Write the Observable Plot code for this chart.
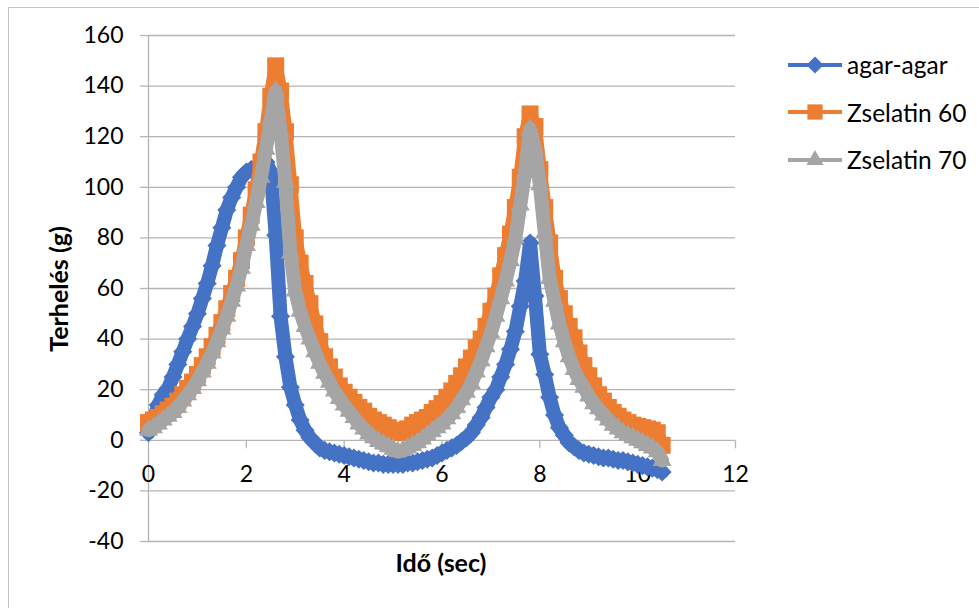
<!DOCTYPE html>
<html>
<head>
<meta charset="utf-8">
<script src="https://cdn.jsdelivr.net/npm/d3@7"></script>
<script src="https://cdn.jsdelivr.net/npm/@observablehq/plot@0.6"></script>
<style>
  html, body { margin: 0; padding: 0; background: #fff; }
  #wrap { position: relative; width: 979px; height: 608px; overflow: hidden; font-family: Lato, "Noto Sans", sans-serif; }
  #frame { position: absolute; left: 8px; top: 7px; width: 1200px; height: 900px; border-left: 1px solid #c4c4c4; border-top: 1px solid #c4c4c4; }
  #chart { position: absolute; left: 0; top: 0; }
  .ytitle { position: absolute; left: 58px; top: 289px; transform: translate(-50%, -50%) rotate(-90deg); font-weight: bold; font-size: 25px; white-space: nowrap; color: #000; }
  .xtitle { position: absolute; left: 441px; top: 562px; transform: translate(-50%, -50%); font-weight: bold; font-size: 25px; white-space: nowrap; color: #000; }
  #legend { position: absolute; left: 788px; top: 41px; }
  .li { display: flex; align-items: center; height: 47.5px; font-size: 24.5px; color: #000; white-space: nowrap; }
  .li svg { margin-right: 3px; }
</style>
</head>
<body>
<div id="wrap">
  <div id="frame"></div>
  <div id="chart"></div>
  <div class="ytitle">Terhelés (g)</div>
  <div class="xtitle">Idő (sec)</div>
  <div id="legend"></div>
</div>
<script>
// ---- data ----
const time = [0,0.1,0.2,0.3,0.4,0.5,0.6,0.7,0.8,0.9,
  1,1.1,1.2,1.3,1.4,1.5,1.6,1.7,1.8,1.9,
  2,2.1,2.2,2.3,2.4,2.5,2.6,2.7,2.8,2.9,
  3,3.1,3.2,3.3,3.4,3.5,3.6,3.7,3.8,3.9,
  4,4.1,4.2,4.3,4.4,4.5,4.6,4.7,4.8,4.9,
  5,5.1,5.2,5.3,5.4,5.5,5.6,5.7,5.8,5.9,
  6,6.1,6.2,6.3,6.4,6.5,6.6,6.7,6.8,6.9,
  7,7.1,7.2,7.3,7.4,7.5,7.6,7.7,7.8,7.9,
  8,8.1,8.2,8.3,8.4,8.5,8.6,8.7,8.8,8.9,
  9,9.1,9.2,9.3,9.4,9.5,9.6,9.7,9.8,9.9,
  10,10.1,10.2,10.3,10.4,10.5];

const agarAgar = [3,8,14,18,20.5,25,30,35,40,45,
  50,56,62,69,77,84,91,96,100,104,
  106,107,108,109,110,106,81,49,33,21,
  14,8,4,1,-1,-3,-4,-4.5,-5,-5.5,
  -6,-6.5,-7,-7.5,-8,-8.5,-9,-9,-9.5,-9.5,
  -9.5,-9.5,-9.5,-9,-9,-8.5,-8,-7.5,-7,-6,
  -5,-4,-3,-2,-0.5,1,3,6,9,13,
  17,20,25,30,36,43,53,63,78,57,
  34,26,17,10,5,2,-1,-2.5,-4,-5,
  -5.5,-6,-6.5,-7,-7,-7.5,-8,-8,-8.5,-9,
  -9.5,-10,-10.5,-11,-11.5,-12.5];

const zselatin60 = [7,8,9,10.5,12,13.5,15.5,18,20.5,23,
  26,29.5,33,37,41.5,46.5,52,58,64,71,
  80,89,99,110,122,136,148,138,122,101,
  80,70,62,54,46,39,33,29,25,21.5,
  19,17,15,13,11.5,9.5,8,7,6,5,
  4,3,3.5,4.5,6,7,8,9,11,12.5,
  14.5,17,19.5,22.5,25.5,29,32.5,36.5,40,45,
  51,57,65,73,81.5,92,104,120,129,124,
  107,92,78,64,56,50,45,40.5,34.5,29.5,
  25.5,21.5,18,15.5,13,11,9.5,8,7,6,
  5.5,5,4.5,4,3,-2];

const zselatin70 = [4,5,6.5,8,9.5,11,13,15.5,18,20.5,
  23.5,27,30.5,34.5,39,44,49,55,61,68,
  77,85,94,104,115,127,138,122,102,74,
  59,51,45,40,35,30.5,26.5,23,19.5,16.5,
  14,11.5,9,6.5,4.5,2.5,1,-0.5,-1.5,-2.5,
  -3.5,-4.5,-4,-3,-2,-1,0.5,2,3.5,5,
  6.5,8.5,10.5,13,16,19,22.5,27,31.5,37,
  42.5,49,56,63,71,80,93,106,123,115,
  101,82,64,55,46,39,33,28,24,21,
  17.5,14.5,12.5,10,8,6,4.5,3,2,1,
  0,-1,-2,-3,-4.5,-8];

const seriesNames = ["agar-agar", "Zselatin 60", "Zselatin 70"];
const seriesColors = ["#4472C4", "#ED7D31", "#A5A5A5"];
const seriesSymbols = ["diamond2", "square", "triangle"];
const yTicks = [-40,-20,0,20,40,60,80,100,120,140,160];
const xTicks = [0,2,4,6,8,10,12];

// ---- build tables ----
const seriesValues = [agarAgar, zselatin60, zselatin70];
const tables = seriesValues.map(vals => time.map((t, i) => ({t, v: vals[i]})));
const markerR = [8.6, 9.6, 7.1];
const grid = "#b4b4b4";

const tickDown = { draw(ctx) { ctx.moveTo(0, 0); ctx.lineTo(0, 8); } };

const seriesMarks = tables.flatMap((rows, k) => [
  Plot.line(rows, {x: "t", y: "v", stroke: seriesColors[k], strokeWidth: 14, strokeLinejoin: "round", strokeLinecap: "round"}),
  Plot.dot(rows, {x: "t", y: "v", symbol: seriesSymbols[k], r: markerR[k], fill: seriesColors[k], stroke: "none"})
]);

const chart = Plot.plot({
  width: 979,
  height: 608,
  marginLeft: 148,
  marginRight: 244,
  marginTop: 35,
  marginBottom: 67,
  x: {domain: [0, 12], axis: null},
  y: {domain: [-40, 160], axis: null},
  style: {fontFamily: "Lato, 'Noto Sans', sans-serif", color: "#000", background: "transparent", overflow: "visible"},
  marks: [
    Plot.ruleY(yTicks, {stroke: grid, strokeWidth: 1.3}),
    Plot.ruleX([0], {stroke: grid, strokeWidth: 1.3}),
    Plot.axisY({ticks: yTicks, tickSize: 8, tickPadding: 17, stroke: grid, strokeWidth: 1.3, fill: "#000", fontSize: 23, label: null, tickFormat: d => String(d)}),
    Plot.dot(xTicks.filter(d => d !== 0), {x: d => d, y: 0, symbol: tickDown, r: 1, stroke: grid, strokeWidth: 1.3, fill: "none"}),
    Plot.text(xTicks, {x: d => d, y: 0, dy: 34, text: d => String(d), fontSize: 23, fill: "#000"}),
    ...seriesMarks
  ]
});
document.getElementById("chart").appendChild(chart);

// ---- legend ----
const legend = document.getElementById("legend");
seriesNames.forEach((name, k) => {
  const row = document.createElement("div");
  row.className = "li";
  const ns = "http://www.w3.org/2000/svg";
  const svg = document.createElementNS(ns, "svg");
  svg.setAttribute("width", 56); svg.setAttribute("height", 22);
  const line = document.createElementNS(ns, "line");
  line.setAttribute("x1", 0); line.setAttribute("x2", 54);
  line.setAttribute("y1", 11); line.setAttribute("y2", 11);
  line.setAttribute("stroke", seriesColors[k]); line.setAttribute("stroke-width", 4);
  svg.appendChild(line);
  const sym = d3.symbol(seriesSymbols[k] === "diamond2" ? d3.symbolDiamond2 : seriesSymbols[k] === "square" ? d3.symbolSquare : d3.symbolTriangle, Math.PI * markerR[k] * markerR[k] * 0.8)();
  const path = document.createElementNS(ns, "path");
  path.setAttribute("d", sym);
  path.setAttribute("transform", "translate(27,11)");
  path.setAttribute("fill", seriesColors[k]);
  svg.appendChild(path);
  row.appendChild(svg);
  const span = document.createElement("span");
  span.textContent = name;
  row.appendChild(span);
  legend.appendChild(row);
});
</script>
</body>
</html>
